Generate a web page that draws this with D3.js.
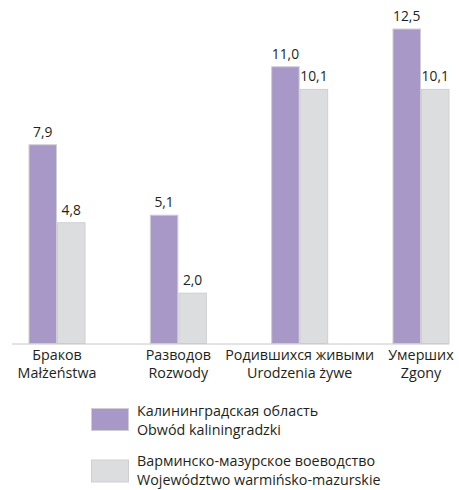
<!DOCTYPE html>
<html><head><meta charset="utf-8">
<script src="https://cdn.jsdelivr.net/npm/d3@7"></script>
<style>body{margin:0;background:#fff}svg{display:block}text{font-family:"Open Sans",sans-serif;fill:#231f20}</style>
</head><body>
<script>
const categories = [["Браков","Małżeństwa"],["Разводов","Rozwody"],["Родившихся живыми","Urodzenia żywe"],["Умерших","Zgony"]];
const kaliningrad = [7.9, 5.1, 11.0, 12.5];
const warmia = [4.8, 2.0, 10.1, 10.1];
const seriesNames = [["Калининградская область","Obwód kaliningradzki"],["Варминско-мазурское воеводство","Województwo warmińsko-mazurskie"]];
const colors = ["#a898c7","#dcdddf"];

const W = 459, H = 490;
const svg = d3.select("body").append("svg").attr("width", W).attr("height", H);
const baseY = 343.5;
const x = d3.scaleBand().domain(d3.range(categories.length)).range([28.5, 449.5]).paddingInner(0.53).paddingOuter(0);
const xs = d3.scaleBand().domain([0,1]).range([0, x.bandwidth()]);
const y = d3.scaleLinear().domain([0, 12.5]).range([baseY, 29]);
const fmt = v => d3.format(".1f")(v).replace(".", ",");
const series = [kaliningrad, warmia];

const g = svg.append("g");
series.forEach((vals, si) => {
  g.selectAll(null).data(vals).enter().append("rect")
    .attr("x", (d,i) => x(i) + xs(si) + 0.5)
    .attr("y", d => y(d))
    .attr("width", xs.bandwidth() - 1)
    .attr("height", d => baseY - y(d))
    .attr("fill", colors[si])
    .attr("stroke", "#cfcfd2").attr("stroke-width", 1);
  g.selectAll(null).data(vals).enter().append("text")
    .attr("x", (d,i) => x(i) + xs(si) + xs.bandwidth()/2)
    .attr("y", d => y(d) - 8)
    .attr("text-anchor", "middle")
    .attr("font-size", 13.8)
    .text(fmt);
});

svg.append("line").attr("x1", 12).attr("x2", 449).attr("y1", baseY+0.5).attr("y2", baseY+0.5)
  .attr("stroke", "#c8c8ca").attr("stroke-width", 1);

const cat = svg.append("g");
categories.forEach((lines, i) => {
  lines.forEach((t, li) => {
    cat.append("text").attr("x", x(i) + x.bandwidth()/2).attr("y", 359.5 + li*18)
      .attr("text-anchor", "middle").attr("font-size", 14.3).text(t);
  });
});

const leg = svg.append("g");
seriesNames.forEach((lines, si) => {
  const top = 408.5 + si*51.5;
  leg.append("rect").attr("x", 91.5).attr("y", top).attr("width", 37).attr("height", 22)
    .attr("fill", colors[si]).attr("stroke", "#cfcfd2");
  lines.forEach((t, li) => {
    leg.append("text").attr("x", 137).attr("y", 415.7 + si*50 + li*19.3).attr("font-size", 14.3).text(t);
  });
});
</script>
</body></html>
